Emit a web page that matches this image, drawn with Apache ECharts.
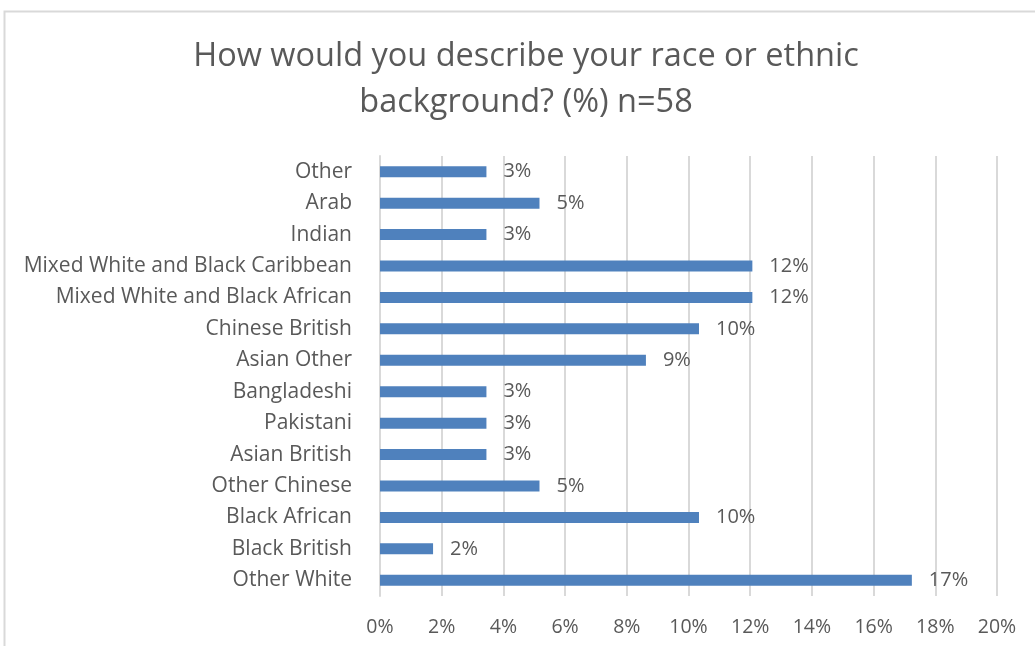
<!DOCTYPE html>
<html>
<head>
<meta charset="utf-8">
<script src="https://cdn.jsdelivr.net/npm/echarts@6/dist/echarts.min.js"></script>
<style>
  html, body { margin: 0; padding: 0; background: #fff; }
  #chart { width: 1035px; height: 646px; }
</style>
</head>
<body>
<div id="chart"></div>
<script>
// Respondent groups, listed bottom-to-top as drawn on the category axis
const categories = [
  'Other White', 'Black British', 'Black African', 'Other Chinese',
  'Asian British', 'Pakistani', 'Bangladeshi', 'Asian Other',
  'Chinese British', 'Mixed White and Black African',
  'Mixed White and Black Caribbean', 'Indian', 'Arab', 'Other'
];
// Share of respondents (%) for each group
const shares = [
  17.24, 1.72, 10.34, 5.17,
  3.45, 3.45, 3.45, 8.62,
  10.34, 12.07,
  12.07, 3.45, 5.17, 3.45
];
const axisMax = 20;
const axisStep = 2;

const textColor = '#595959';
const fontFamily = 'Open Sans, Noto Sans, sans-serif';

const chart = echarts.init(document.getElementById('chart'));
chart.setOption({
  animation: false,
  backgroundColor: '#ffffff',
  title: {
    text: 'How would you describe your race or ethnic\nbackground? (%) n=58',
    left: 521,
    top: 29,
    textAlign: 'center',
    textStyle: {
      color: textColor,
      fontFamily: fontFamily,
      fontSize: 32.5,
      fontWeight: 'normal',
      lineHeight: 46
    }
  },
  graphic: [{
    type: 'rect',
    shape: { x: 4.5, y: 11.5, width: 1100, height: 700 },
    style: { fill: 'none', stroke: '#d9d9d9', lineWidth: 2 },
    silent: true
  }],
  grid: { left: 380, right: 38, top: 156, bottom: 50 },
  xAxis: {
    type: 'value',
    min: 0,
    max: axisMax,
    interval: axisStep,
    axisLine: { show: false },
    axisTick: { show: false },
    splitLine: { show: true, lineStyle: { color: '#d9d9d9', width: 2 } },
    axisLabel: {
      formatter: v => v + '%',
      color: textColor,
      fontFamily: fontFamily,
      fontSize: 19.5,
      margin: 21
    }
  },
  yAxis: {
    type: 'category',
    data: categories,
    axisLine: { show: true, lineStyle: { color: '#d9d9d9', width: 2 } },
    axisTick: { show: false },
    axisLabel: {
      color: textColor,
      fontFamily: fontFamily,
      fontSize: 21,
      margin: 28
    }
  },
  series: [{
    type: 'bar',
    data: shares,
    barWidth: 11,
    itemStyle: { color: '#4f81bd' },
    label: {
      show: true,
      position: 'right',
      distance: 17,
      formatter: p => Math.round(p.value) + '%',
      color: textColor,
      fontFamily: fontFamily,
      fontSize: 20
    }
  }]
});
</script>
</body>
</html>
